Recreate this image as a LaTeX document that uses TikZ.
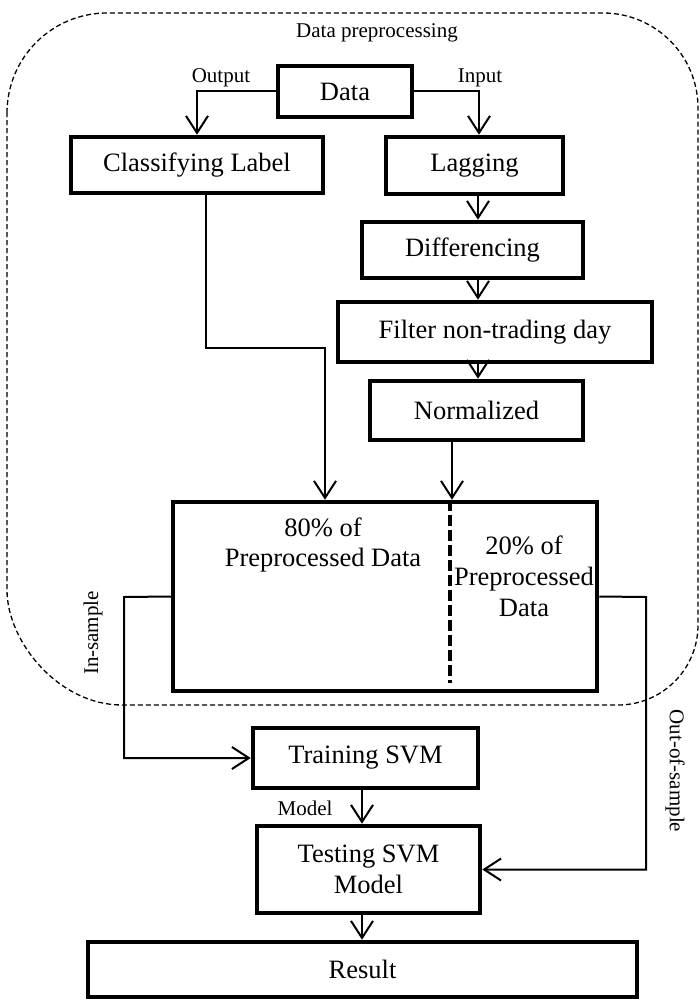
\documentclass[tikz,border=0pt]{standalone}
\usepackage{fontspec}
\setmainfont{Liberation Serif}
\usetikzlibrary{arrows.meta}
\begin{document}
\begin{tikzpicture}[x=1pt,y=-1pt,
  box/.style={draw, line width=4.5pt, rectangle, inner sep=0pt, align=center, font=\fontsize{26.5}{31}\selectfont},
  lbl/.style={inner sep=0pt, font=\fontsize{21}{25}\selectfont},
  conn/.style={line width=2pt},
  arr/.style={line width=2pt, -{Straight Barb[length=17pt,width=22pt]}},
  outer/.style={line width=1.3pt, dash pattern=on 5pt off 3pt},
  divider/.style={line width=4pt, dash pattern=on 11pt off 4pt}]
\useasboundingbox (0,0) rectangle (699,1000);

% outer dashed group
\draw[outer] (7,113) .. controls (7,57.8) and (51.8,13) .. (107,13)
  -- (603,13) .. controls (655.5,13) and (698,55.5) .. (698,108)
  -- (698,625) .. controls (698,669.2) and (662.2,705) .. (618,705)
  -- (122,705) .. controls (58.5,705) and (7,641.5) .. (7,590) -- cycle;
\node[lbl] (grp) at (377,33) {Data preprocessing};

% boxes
\node[box, minimum width=134pt, minimum height=51pt] (data) at (345,91.5) {Data};
\node[box, minimum width=252pt, minimum height=56pt] (cls) at (197,165) {Classifying Label};
\node[box, minimum width=177pt, minimum height=57pt] (lag) at (474.5,165.5) {Lagging};
\node[box, minimum width=221pt, minimum height=56pt] (diff) at (472.5,250) {Differencing};
\node[box, minimum width=314pt, minimum height=60pt] (filt) at (495,332) {Filter non-trading day};
\node[box, minimum width=213pt, minimum height=59pt] (norm) at (476.5,410.5) {Normalized};
\node[box, minimum width=424pt, minimum height=189pt] (big) at (385,596.5) {};
\node[box, minimum width=225pt, minimum height=60pt] (train) at (365.5,758) {Training SVM};
\node[box, minimum width=223pt, minimum height=87pt] (test) at (368.5,869.5) {Testing SVM\\Model};
\node[box, minimum width=549pt, minimum height=55pt] (res) at (362.5,969.5) {Result};

% texts inside big box
\node[inner sep=0pt, align=center, font=\fontsize{26.5}{30}\selectfont] (p80) at (323,545) {80\% of\\Preprocessed Data};
\node[inner sep=0pt, align=center, font=\fontsize{26.5}{31}\selectfont] (p20) at (524,576) {20\% of\\Preprocessed\\Data};

% divider
\coordinate (divx) at (450,0);
\coordinate (divend) at (450,683);
\draw[divider] (big.north -| divx) -- (divend);

% helper columns
\coordinate (colA) at (478,0);
\coordinate (colB) at (206,0);
\coordinate (colC) at (452,0);
\coordinate (colD) at (362,0);
\coordinate (clsbend) at (325,348);
\coordinate (inl) at (124,597);
\coordinate (outl) at (646,597);

% connectors
\draw[arr] (data.west) -| (cls.north);
\draw[arr] (data.east) -| ([xshift=4.5pt]lag.north);
\draw[arr] (lag.south -| colA) -- (diff.north -| colA);
\draw[arr] (diff.south -| colA) -- (filt.north -| colA);
\draw[arr] (filt.south -| colA) -- (norm.north -| colA);
\draw[arr] (cls.south -| colB) |- (clsbend) -- (clsbend |- big.north);
\draw[arr] (norm.south -| colC) -- (big.north -| colC);
\draw[arr] (big.west) -- (inl) |- (train.west);
\draw[arr] (big.east) -- (outl) |- (test.east);
\draw[arr] (train.south -| colD) -- (test.north -| colD);
\draw[arr] (test.south -| colD) -- (res.north -| colD);

% labels
\node[lbl] (lout) at (221,78) {Output};
\node[lbl] (lin) at (480,78) {Input};
\node[lbl] (lmodel) at (305,808) {Model};
\node[lbl, rotate=90] (lins) at (93,633) {In-sample};
\node[lbl, rotate=-90] (louts) at (675,771) {Out-of-sample};
\end{tikzpicture}
\end{document}
